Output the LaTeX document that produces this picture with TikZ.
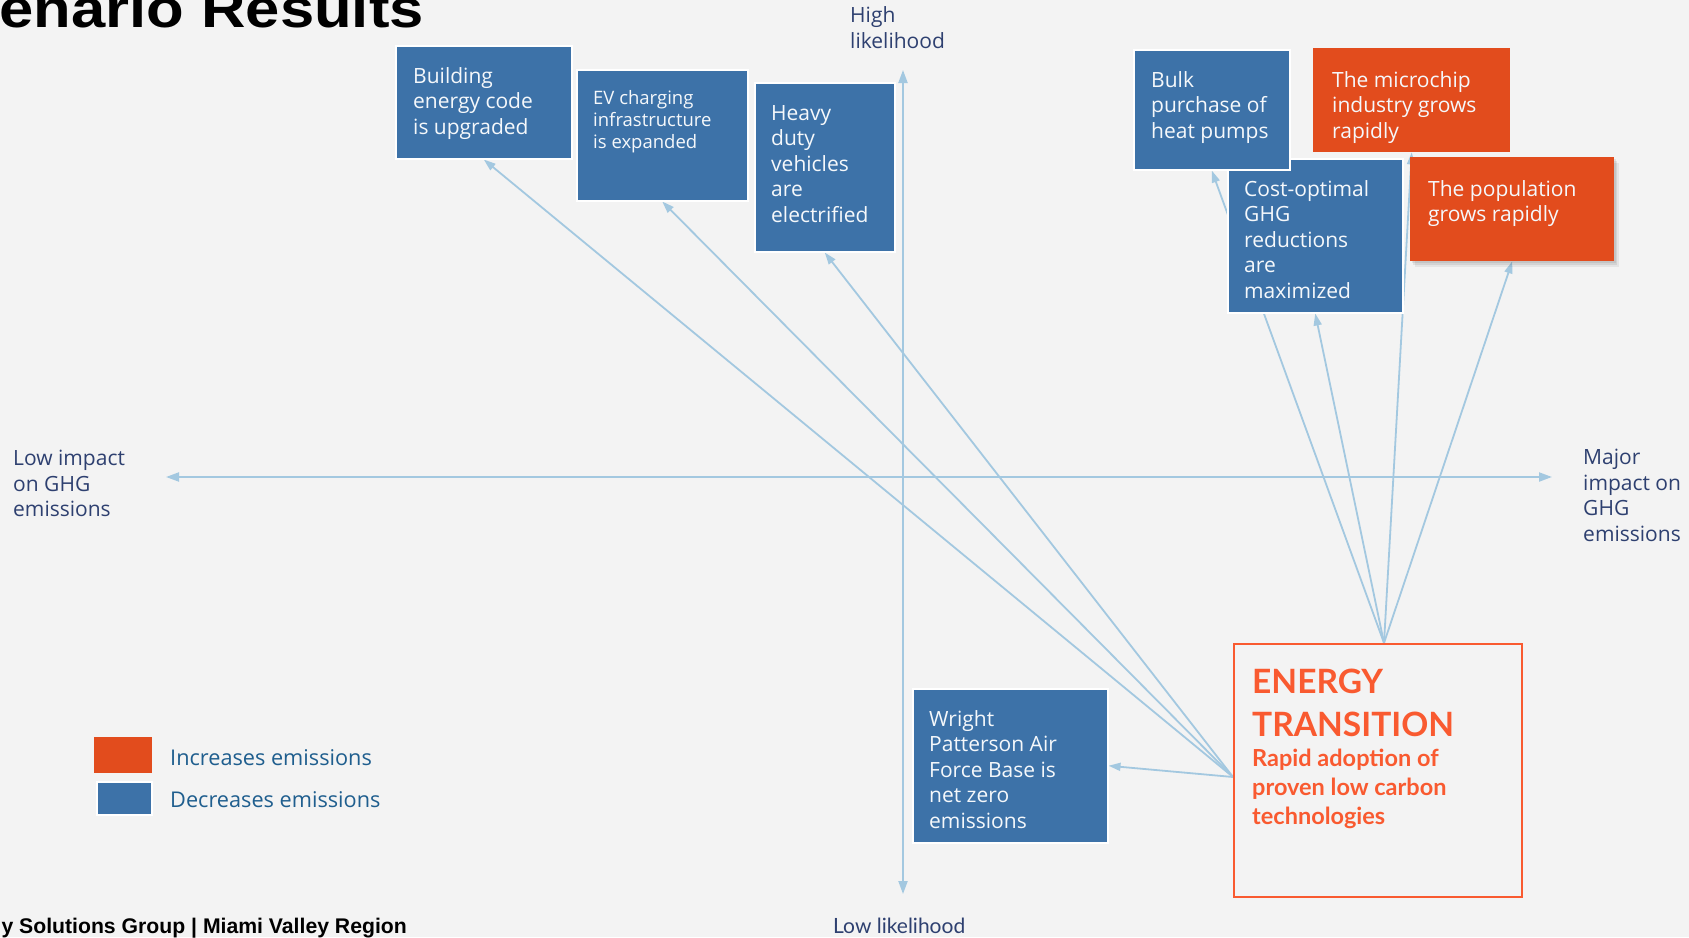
\documentclass[tikz,border=0pt]{standalone}
\usepackage{fontspec}
\setmainfont{Open Sans}
\newfontfamily\latofont{Lato}
\newfontfamily\headfont{Liberation Sans}
\usetikzlibrary{arrows.meta,shadows}

\definecolor{pagebg}{HTML}{F3F3F3}
\definecolor{decblue}{HTML}{3D72A8}
\definecolor{incorange}{HTML}{E24C1D}
\definecolor{linkblue}{HTML}{A3C8E0}
\definecolor{axistext}{HTML}{2E4070}
\definecolor{legendtext}{HTML}{1F5E8E}
\definecolor{scenario}{HTML}{F95A30}

\pgfdeclarelayer{canvas}
\pgfdeclarelayer{links}
\pgfsetlayers{canvas,links,main}

\tikzset{
  bluebox/.style={anchor=north west, fill=decblue, draw=white, line width=1.5pt, inner sep=0pt},
  orangebox/.style={anchor=north west, fill=incorange, inner sep=0pt},
  softshadow/.style={
    drop shadow={shadow xshift=2pt, shadow yshift=-2pt, opacity=0.07, fill=black},
    drop shadow={shadow xshift=3pt, shadow yshift=-4pt, opacity=0.07, fill=black},
    drop shadow={shadow xshift=5pt, shadow yshift=-6pt, opacity=0.06, fill=black}},
  boxtext/.style={anchor=north west, inner sep=0pt, align=left, text=white!95!decblue,
    font=\fontsize{21}{25.5}\selectfont},
  smalltext/.style={boxtext, font=\fontsize{18.5}{22}\selectfont},
  axislabel/.style={anchor=north west, inner sep=0pt, align=left, text=axistext,
    font=\fontsize{21}{25.5}\selectfont},
  legendlabel/.style={anchor=base west, inner sep=0pt, text=legendtext,
    font=\fontsize{21.7}{26}\selectfont},
  link/.style={draw=linkblue, line width=1.8pt, -{Triangle[length=12pt,width=8pt]}},
  axisline/.style={draw=linkblue, line width=2pt,
    {Triangle[length=13pt,width=9pt]}-{Triangle[length=13pt,width=9pt]}},
}

\begin{document}
\begin{tikzpicture}[x=1pt,y=-1pt]
\begin{pgfonlayer}{canvas}
  \fill[pagebg] (0,0) rectangle (1689,937);
\end{pgfonlayer}
\useasboundingbox (0,0) rectangle (1689,937);

% heading and footer
\node[anchor=base east, inner sep=0pt] (title) at (424,27)
  {\scalebox{1.14}[1]{\headfont\bfseries\fontsize{54}{60}\selectfont enario Results}};
\node[anchor=base east, inner sep=0pt] (footer) at (407,933)
  {\headfont\bfseries\fontsize{21.2}{24}\selectfont y Solutions Group | Miami Valley Region};

% axes
\coordinate (vtop) at (903,70);
\coordinate (vbot) at (903,894);
\coordinate (hleft) at (166,477);
\coordinate (hright) at (1552,477);
\draw[axisline] (vbot) -- (vtop);
\draw[axisline] (hleft) -- (hright);

\node[axislabel] (high) at (850,6.5) {High\\likelihood};
\node[anchor=base west, inner sep=0pt, text=axistext, font=\latofont\fontsize{21}{25}\selectfont]
  (low) at (833,933) {Low likelihood};
\node[axislabel] (lowimp) at (13,450) {Low impact\\on GHG\\emissions};
\node[axislabel] (majimp) at (1583,449) {Major\\impact on\\GHG\\emissions};

% driver boxes
\node[bluebox, minimum width=176pt, minimum height=113pt] (bld) at (395,45) {};
\node[boxtext] (bldt) at (413,67) {Building\\energy code\\is upgraded};

\node[bluebox, minimum width=171pt, minimum height=131pt] (ev) at (576,69) {};
\node[smalltext] (evt) at (593,90) {EV charging\\infrastructure\\is expanded};

\node[bluebox, minimum width=140pt, minimum height=169pt] (hv) at (754,82) {};
\node[boxtext] (hvt) at (771,105) {Heavy\\duty\\vehicles\\are\\electrified};

\node[bluebox, minimum width=175pt, minimum height=154pt] (cost) at (1227,158) {};
\node[boxtext] (costt) at (1244,180) {Cost-optimal\\GHG\\reductions\\are\\maximized};

\node[bluebox, minimum width=156pt, minimum height=120pt] (bulk) at (1133,49) {};
\node[boxtext] (bulkt) at (1151,71) {Bulk\\purchase of\\heat pumps};

\node[orangebox, minimum width=197pt, minimum height=104pt] (chip) at (1313,48) {};
\node[boxtext] (chipt) at (1332,71) {The microchip\\industry grows\\rapidly};

\node[orangebox, softshadow, minimum width=204pt, minimum height=104pt] (pop) at (1410,157) {};
\node[boxtext] (popt) at (1428,180) {The population\\grows rapidly};

\node[bluebox, minimum width=195pt, minimum height=154pt] (wr) at (912,688) {};
\node[boxtext] (wrt) at (929,710) {Wright\\Patterson Air\\Force Base is\\net zero\\emissions};

% scenario box
\node[anchor=north west, draw=scenario, line width=2pt, fill=pagebg,
  minimum width=288pt, minimum height=253pt, inner sep=0pt] (en) at (1233,643) {};
\node[anchor=north west, inner sep=0pt, align=left, text=scenario,
  font=\latofont\bfseries\fontsize{33.5}{43}\selectfont] (ent) at (1252,669) {ENERGY\\TRANSITION};
\node[anchor=north west, inner sep=0pt, align=left, text=scenario,
  font=\latofont\bfseries\fontsize{23.5}{29}\selectfont] (ens) at (1252,749)
  {Rapid adoption of\\proven low carbon\\technologies};

% legend
\node[orangebox, minimum width=58pt, minimum height=36pt] (legInc) at (94,737) {};
\node[bluebox, minimum width=55pt, minimum height=33pt] (legDec) at (96,781) {};
\node[legendlabel] (legInct) at (170,765) {Increases emissions};
\node[legendlabel] (legDect) at (170,807) {Decreases emissions};

% influence links from the scenario
\coordinate (etop) at ([xshift=6pt]en.north);
\coordinate (eleft) at ([yshift=-6.5pt]en.west);
\begin{pgfonlayer}{links}
  \draw[link] (eleft) -- (wr.east);
  \draw[link] (eleft) -- (bld.south);
  \draw[link] (eleft) -- (ev.south);
  \draw[link] (eleft) -- (hv.south);
  \draw[link] (etop) -- (bulk.south);
  \draw[link] (etop) -- (cost.south);
  \draw[link] (etop) -- (chip.south);
  \draw[link] (etop) -- (pop.south);
\end{pgfonlayer}
\end{tikzpicture}
\end{document}
